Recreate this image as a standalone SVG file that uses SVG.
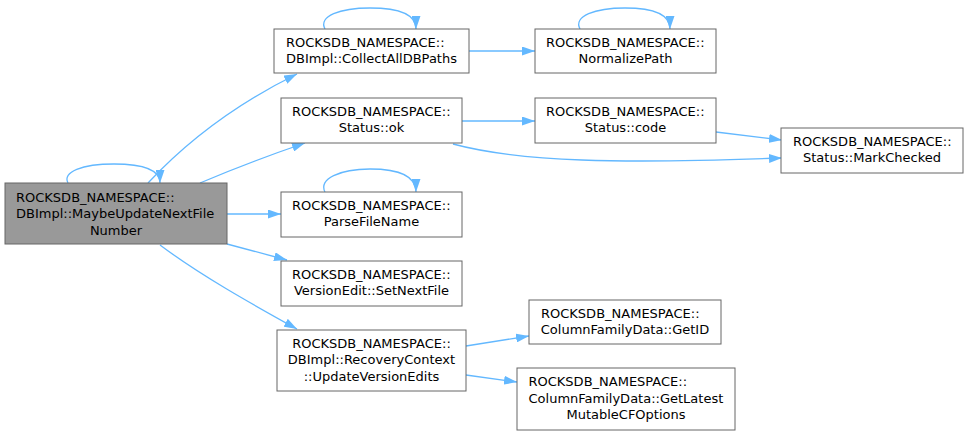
<svg xmlns="http://www.w3.org/2000/svg" width="969" height="436" viewBox="0 0 969 436">
<style>
.box{fill:#ffffff;stroke:#666666;stroke-width:1}
.main{fill:#999999;stroke:#666666;stroke-width:1}
text{font-family:"DejaVu Sans","Liberation Sans",sans-serif;font-size:13px;fill:#000000}
.m{text-anchor:middle}
.e{fill:none;stroke:#63b8ff;stroke-width:1.3;marker-end:url(#arr)}
</style>
<defs>
<marker id="arr" viewBox="0 0 13 9" refX="13" refY="4.5" markerWidth="13" markerHeight="9" markerUnits="userSpaceOnUse" orient="auto">
<polygon points="0,0 13,4.5 0,9" fill="#63b8ff"/>
</marker>
</defs>
<rect width="969" height="436" fill="#ffffff"/>
<g id="edges">
<path class="e" d="M68,183 C62,172 82,164 114,164 C146,164 160,171 160,183"/>
<path class="e" d="M148,183 C190,138 240,102 297,74"/>
<path class="e" d="M200,183 C235,168 270,155 305,143"/>
<path class="e" d="M227,214 L281,214"/>
<path class="e" d="M227,244 L287,260"/>
<path class="e" d="M160,245 C200,275 250,303 297,329"/>
<path class="e" d="M325,29 C318,16 340,8 370,8 C400,8 416,15 416,29"/>
<path class="e" d="M469,51 L535,51"/>
<path class="e" d="M580,29 C573,16 595,8 625,8 C655,8 670,15 670,29"/>
<path class="e" d="M462,121 L535,121"/>
<path class="e" d="M453,144 C520,162 620,164 782,158"/>
<path class="e" d="M716,132 L782,140"/>
<path class="e" d="M325,192 C318,179 340,169 370,169 C400,169 416,177 416,192"/>
<path class="e" d="M466,346 L529,336"/>
<path class="e" d="M466,375 L517,382"/>
</g>
<g id="node-main">
<rect class="main" x="5" y="183" width="222" height="61"/>
<text x="16" y="201.5">ROCKSDB_NAMESPACE::</text>
<text x="16" y="218">DBImpl::MaybeUpdateNextFile</text>
<text class="m" x="116" y="234.5">Number</text>
</g>
<g id="node-collect">
<rect class="box" x="274" y="29" width="195" height="44"/>
<text x="286" y="46.5">ROCKSDB_NAMESPACE::</text>
<text class="m" x="371.5" y="63">DBImpl::CollectAllDBPaths</text>
</g>
<g id="node-ok">
<rect class="box" x="281" y="98" width="181" height="45"/>
<text x="292" y="115.5">ROCKSDB_NAMESPACE::</text>
<text class="m" x="371.5" y="132">Status::ok</text>
</g>
<g id="node-parse">
<rect class="box" x="281" y="192" width="181" height="45"/>
<text x="292" y="209.5">ROCKSDB_NAMESPACE::</text>
<text class="m" x="371.5" y="226">ParseFileName</text>
</g>
<g id="node-setnext">
<rect class="box" x="281" y="261" width="181" height="45"/>
<text x="292" y="278.5">ROCKSDB_NAMESPACE::</text>
<text class="m" x="371.5" y="295">VersionEdit::SetNextFile</text>
</g>
<g id="node-uve">
<rect class="box" x="277" y="330" width="189" height="61"/>
<text class="m" x="371.5" y="347.5">ROCKSDB_NAMESPACE::</text>
<text class="m" x="371.5" y="364">DBImpl::RecoveryContext</text>
<text class="m" x="371.5" y="380.5">::UpdateVersionEdits</text>
</g>
<g id="node-normalize">
<rect class="box" x="535" y="29" width="181" height="44"/>
<text x="546" y="46.5">ROCKSDB_NAMESPACE::</text>
<text class="m" x="625.5" y="63">NormalizePath</text>
</g>
<g id="node-code">
<rect class="box" x="535" y="98" width="181" height="45"/>
<text x="546" y="115.5">ROCKSDB_NAMESPACE::</text>
<text class="m" x="625.5" y="132">Status::code</text>
</g>
<g id="node-markchecked">
<rect class="box" x="781" y="128" width="182" height="45"/>
<text x="793" y="145.5">ROCKSDB_NAMESPACE::</text>
<text class="m" x="872" y="162">Status::MarkChecked</text>
</g>
<g id="node-getid">
<rect class="box" x="529" y="300" width="192" height="44"/>
<text x="541" y="317.5">ROCKSDB_NAMESPACE::</text>
<text class="m" x="625" y="334">ColumnFamilyData::GetID</text>
</g>
<g id="node-getlatest">
<rect class="box" x="517" y="368" width="218" height="62"/>
<text x="528.5" y="386">ROCKSDB_NAMESPACE::</text>
<text x="528.5" y="402.5">ColumnFamilyData::GetLatest</text>
<text class="m" x="626" y="419">MutableCFOptions</text>
</g>
</svg>
